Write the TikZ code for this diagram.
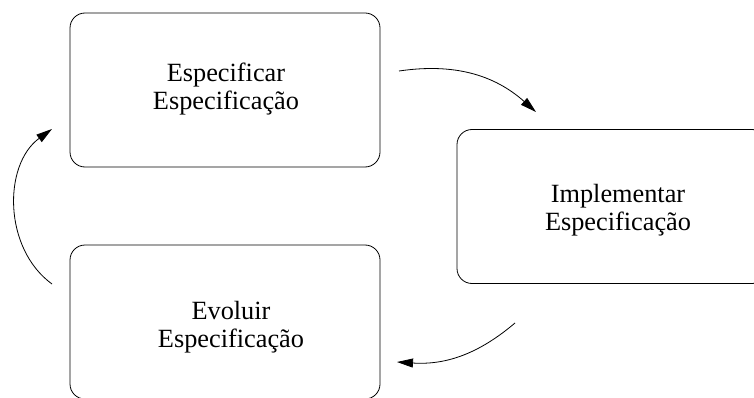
\documentclass[tikz,border=0pt]{standalone}
\usepackage{fontspec}
\setmainfont{Liberation Serif}
\usetikzlibrary{arrows.meta}
\begin{document}
\begin{tikzpicture}[x=1pt,y=1pt,
  stagebox/.style={draw, line width=0.8pt, rounded corners=15pt,
    minimum width=310pt, minimum height=154pt, inner sep=0pt},
  stagetext/.style={anchor=base, inner sep=0pt,
    font=\fontsize{26.3pt}{28pt}\selectfont},
  flow/.style={line width=0.8pt, -{Triangle[length=16pt,width=9pt]}}]
\clip (0,0) rectangle (754,-398);
% the three stages of the cycle
\node[stagebox] (spec) at (225,-90)    {};
\node[stagebox] (impl) at (612,-206.5) {};
\node[stagebox] (evol) at (225,-322)   {};
% stage names, two lines each, placed on their baselines
\node[stagetext] (spec1) at (226,-82)  {Especificar};
\node[stagetext] (spec2) at (226,-110) {Especificação};
\node[stagetext] (impl1) at (618,-202) {Implementar};
\node[stagetext] (impl2) at (618,-230) {Especificação};
\node[stagetext] (evol1) at (231,-319) {Evoluir};
\node[stagetext] (evol2) at (231,-347) {Especificação};
% free ends of the curved arrows
\coordinate (s1) at (399,-71);
\coordinate (e1) at (536,-112);
\coordinate (s2) at (515,-323);
\coordinate (e2) at (397,-362);
\coordinate (s3) at (52,-284);
\coordinate (e3) at (52,-129);
\draw[flow] (s1) to[bend left=25] (e1);
\draw[flow] (s2) to[bend left=22] (e2);
\draw[flow] (s3) to[bend left=54] (e3);
\end{tikzpicture}
\end{document}
